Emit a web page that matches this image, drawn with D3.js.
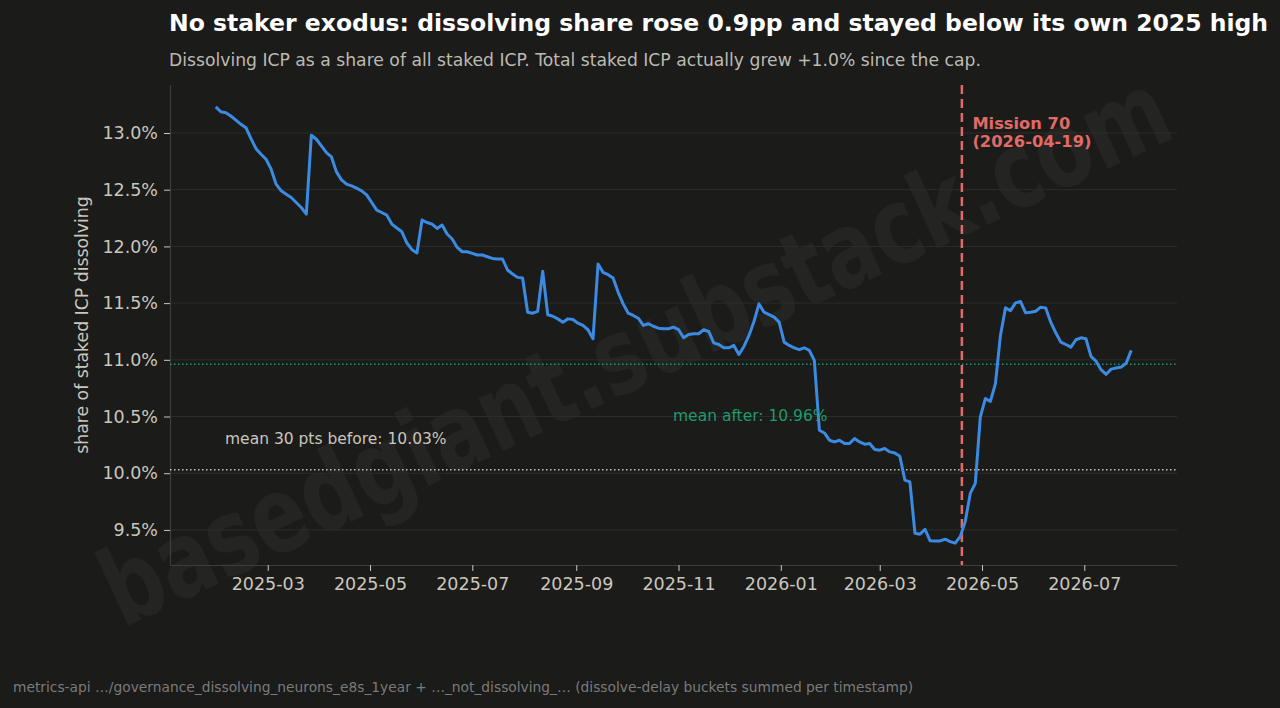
<!DOCTYPE html>
<html>
<head>
<meta charset="utf-8">
<script src="https://cdn.jsdelivr.net/npm/d3@7"></script>
<style>
  html, body { margin: 0; padding: 0; background: #1b1b1a; }
  svg text { font-family: "DejaVu Sans", sans-serif; }
</style>
</head>
<body>
<div id="chart"></div>
<script>
const dates = [
  "2025-01-29","2025-02-01","2025-02-04","2025-02-07","2025-02-10","2025-02-13","2025-02-16","2025-02-19","2025-02-22","2025-02-25",
  "2025-02-28","2025-03-03","2025-03-06","2025-03-09","2025-03-12","2025-03-15","2025-03-18","2025-03-21","2025-03-24","2025-03-27",
  "2025-03-30","2025-04-02","2025-04-05","2025-04-08","2025-04-11","2025-04-14","2025-04-17","2025-04-20","2025-04-23","2025-04-26",
  "2025-04-29","2025-05-02","2025-05-05","2025-05-08","2025-05-11","2025-05-14","2025-05-17","2025-05-20","2025-05-23","2025-05-26",
  "2025-05-29","2025-06-01","2025-06-04","2025-06-07","2025-06-10","2025-06-13","2025-06-16","2025-06-19","2025-06-22","2025-06-25",
  "2025-06-28","2025-07-01","2025-07-04","2025-07-07","2025-07-10","2025-07-13","2025-07-16","2025-07-19","2025-07-22","2025-07-25",
  "2025-07-28","2025-07-31","2025-08-03","2025-08-06","2025-08-09","2025-08-12","2025-08-15","2025-08-18","2025-08-21","2025-08-24",
  "2025-08-27","2025-08-30","2025-09-02","2025-09-05","2025-09-08","2025-09-11","2025-09-14","2025-09-17","2025-09-20","2025-09-23",
  "2025-09-26","2025-09-29","2025-10-02","2025-10-05","2025-10-08","2025-10-11","2025-10-14","2025-10-17","2025-10-20","2025-10-23",
  "2025-10-26","2025-10-29","2025-11-01","2025-11-04","2025-11-07","2025-11-10","2025-11-13","2025-11-16","2025-11-19","2025-11-22",
  "2025-11-25","2025-11-28","2025-12-01","2025-12-04","2025-12-07","2025-12-10","2025-12-13","2025-12-16","2025-12-19","2025-12-22",
  "2025-12-25","2025-12-28","2025-12-31","2026-01-03","2026-01-06","2026-01-09","2026-01-12","2026-01-15","2026-01-18","2026-01-21",
  "2026-01-24","2026-01-27","2026-01-30","2026-02-02","2026-02-05","2026-02-08","2026-02-11","2026-02-14","2026-02-17","2026-02-20",
  "2026-02-23","2026-02-26","2026-03-01","2026-03-04","2026-03-07","2026-03-10","2026-03-13","2026-03-16","2026-03-19","2026-03-22",
  "2026-03-25","2026-03-28","2026-03-31","2026-04-03","2026-04-06","2026-04-09","2026-04-12","2026-04-15","2026-04-18","2026-04-21",
  "2026-04-24","2026-04-27","2026-04-30","2026-05-03","2026-05-06","2026-05-09","2026-05-12","2026-05-15","2026-05-18","2026-05-21",
  "2026-05-24","2026-05-27","2026-05-30","2026-06-02","2026-06-05","2026-06-08","2026-06-11","2026-06-14","2026-06-17","2026-06-20",
  "2026-06-23","2026-06-26","2026-06-29","2026-07-02","2026-07-05","2026-07-08","2026-07-11","2026-07-14","2026-07-17","2026-07-20",
  "2026-07-23","2026-07-26","2026-07-29"
];
const sharePct = [
  13.231,13.187,13.179,13.150,13.114,13.077,13.047,12.950,12.862,12.813,
  12.769,12.681,12.549,12.490,12.461,12.431,12.387,12.343,12.285,12.980,
  12.945,12.886,12.827,12.789,12.657,12.587,12.549,12.534,12.514,12.490,
  12.455,12.387,12.320,12.299,12.276,12.197,12.162,12.129,12.030,11.971,
  11.942,12.232,12.211,12.197,12.158,12.188,12.109,12.065,11.991,11.953,
  11.953,11.938,11.924,11.924,11.909,11.894,11.889,11.889,11.792,11.757,
  11.727,11.722,11.420,11.411,11.428,11.780,11.397,11.384,11.361,11.332,
  11.361,11.355,11.323,11.303,11.265,11.186,11.845,11.771,11.751,11.722,
  11.595,11.493,11.411,11.391,11.367,11.303,11.318,11.296,11.279,11.274,
  11.274,11.288,11.267,11.194,11.223,11.230,11.230,11.265,11.250,11.150,
  11.135,11.106,11.106,11.127,11.047,11.118,11.215,11.338,11.493,11.420,
  11.399,11.376,11.332,11.156,11.127,11.106,11.089,11.106,11.083,10.995,
  10.379,10.355,10.291,10.276,10.291,10.262,10.262,10.306,10.276,10.256,
  10.262,10.209,10.203,10.218,10.188,10.179,10.150,9.939,9.924,9.471,
  9.462,9.506,9.405,9.403,9.403,9.418,9.397,9.383,9.441,9.573,
  9.822,9.910,10.496,10.658,10.634,10.790,11.215,11.458,11.434,11.502,
  11.514,11.414,11.420,11.428,11.464,11.458,11.332,11.238,11.156,11.135,
  11.112,11.177,11.194,11.186,11.030,10.989,10.913,10.872,10.918,10.927,
  10.936,10.971,11.083
];

const eventDate = "2026-04-19";
const eventLabel = ["Mission 70", "(2026-04-19)"];
const meanBefore = 10.03;
const meanAfter = 10.96;

const yTicks = [9.5, 10.0, 10.5, 11.0, 11.5, 12.0, 12.5, 13.0];
const xTicks = ["2025-03-01","2025-05-01","2025-07-01","2025-09-01","2025-11-01",
                "2026-01-01","2026-03-01","2026-05-01","2026-07-01"];

const W = 1280, H = 708;
const margin = {top: 85, right: 103, bottom: 143, left: 170};
const parse = d3.utcParse("%Y-%m-%d");

const data = dates.map((d, i) => ({date: parse(d), v: sharePct[i]}));

const svg = d3.select("#chart").append("svg")
  .attr("width", W).attr("height", H)
  .style("display", "block")
  .style("background", "#1b1b1a");

// padding of 5% on both axes, like the original
const xExt = d3.extent(data, d => d.date);
const xPad = (xExt[1] - xExt[0]) * 0.05;
const x = d3.scaleUtc()
  .domain([new Date(+xExt[0] - xPad), new Date(+xExt[1] + xPad)])
  .range([margin.left, W - margin.right]);

const yExt = d3.extent(data, d => d.v);
const yPad = (yExt[1] - yExt[0]) * 0.05;
const y = d3.scaleLinear()
  .domain([yExt[0] - yPad, yExt[1] + yPad])
  .range([H - margin.bottom, margin.top]);

// watermark
svg.append("text")
  .attr("transform", "translate(638,356) rotate(-25)")
  .attr("text-anchor", "middle")
  .attr("dominant-baseline", "middle")
  .attr("textLength", 1165)
  .attr("lengthAdjust", "spacingAndGlyphs")
  .style("font-size", "106px")
  .style("font-weight", "bold")
  .style("fill", "#ffffff")
  .style("fill-opacity", 0.045)
  .text("basedgiant.substack.com");

// grid
svg.append("g")
  .selectAll("line")
  .data(yTicks)
  .join("line")
  .attr("x1", margin.left).attr("x2", W - margin.right)
  .attr("y1", d => y(d)).attr("y2", d => y(d))
  .style("stroke", "#2c2c2b")
  .style("stroke-width", 1);

// axes
const yAxis = svg.append("g")
  .attr("transform", `translate(${margin.left},0)`)
  .call(d3.axisLeft(y).tickValues(yTicks).tickSize(6).tickPadding(6)
    .tickFormat(d => d.toFixed(1) + "%"));
const xAxis = svg.append("g")
  .attr("transform", `translate(0,${H - margin.bottom})`)
  .call(d3.axisBottom(x).tickValues(xTicks.map(parse)).tickSize(6).tickPadding(7)
    .tickFormat(d3.utcFormat("%Y-%m")));

[yAxis, xAxis].forEach(g => {
  g.select(".domain").style("stroke", "#3d3d3c").style("stroke-width", 1.2);
  g.selectAll(".tick line").style("stroke", "#c9c6bd").style("stroke-width", 1);
  g.selectAll(".tick text")
    .style("fill", "#c9c6bd")
    .style("font-size", "17.5px")
    .style("font-family", "DejaVu Sans, sans-serif");
});
xAxis.select(".domain").attr("d", `M${margin.left},0.5H${W - margin.right}`);
yAxis.select(".domain").attr("d", `M0.5,${margin.top}V${H - margin.bottom}`);

// mean lines
svg.append("line")
  .attr("x1", margin.left).attr("x2", W - margin.right)
  .attr("y1", y(meanBefore)).attr("y2", y(meanBefore))
  .style("stroke", "#c9c6bd").style("stroke-width", 1.5)
  .style("stroke-dasharray", "1.5,2.5");
svg.append("line")
  .attr("x1", margin.left).attr("x2", W - margin.right)
  .attr("y1", y(meanAfter)).attr("y2", y(meanAfter))
  .style("stroke", "#1f9a6c").style("stroke-width", 1.5)
  .style("stroke-dasharray", "1.5,2.5");

// event line
svg.append("line")
  .attr("x1", x(parse(eventDate))).attr("x2", x(parse(eventDate)))
  .attr("y1", margin.top).attr("y2", H - margin.bottom)
  .style("stroke", "#e06a66").style("stroke-width", 2.5)
  .style("stroke-dasharray", "9,5");

// series
svg.append("path")
  .datum(data)
  .attr("d", d3.line().x(d => x(d.date)).y(d => y(d.v)))
  .style("fill", "none")
  .style("stroke", "#3b8be3")
  .style("stroke-width", 3)
  .style("stroke-linejoin", "round");

// annotations
const ev = svg.append("text")
  .attr("y", 129)
  .style("fill", "#e06a66")
  .style("font-size", "16.3px")
  .style("font-weight", "bold");
ev.selectAll("tspan").data(eventLabel).join("tspan")
  .attr("x", x(parse(eventDate)) + 10.5)
  .attr("dy", (d, i) => i ? 17.5 : 0)
  .text(d => d);

svg.append("text")
  .attr("x", 673).attr("y", 421)
  .style("fill", "#1f9a6c").style("font-size", "15.5px")
  .text("mean after: " + meanAfter.toFixed(2) + "%");
svg.append("text")
  .attr("x", 225).attr("y", 444)
  .style("fill", "#c9c6bd").style("font-size", "15.5px")
  .text("mean 30 pts before: " + meanBefore.toFixed(2) + "%");

// y label
svg.append("text")
  .attr("transform", `translate(88,${(margin.top + H - margin.bottom) / 2}) rotate(-90)`)
  .attr("text-anchor", "middle")
  .style("fill", "#c9c6bd").style("font-size", "17.3px")
  .text("share of staked ICP dissolving");

// titles
svg.append("text")
  .attr("x", 169).attr("y", 31)
  .style("fill", "#ffffff").style("font-size", "23.5px").style("font-weight", "bold")
  .text("No staker exodus: dissolving share rose 0.9pp and stayed below its own 2025 high");
svg.append("text")
  .attr("x", 169).attr("y", 66)
  .style("fill", "#bdbab2").style("font-size", "17.2px")
  .text("Dissolving ICP as a share of all staked ICP. Total staked ICP actually grew +1.0% since the cap.");

// footer
svg.append("text")
  .attr("x", 13).attr("y", 692)
  .style("fill", "#7a7a78").style("font-size", "13.8px")
  .text("metrics-api …/governance_dissolving_neurons_e8s_1year + …_not_dissolving_… (dissolve-delay buckets summed per timestamp)");
</script>
</body>
</html>
